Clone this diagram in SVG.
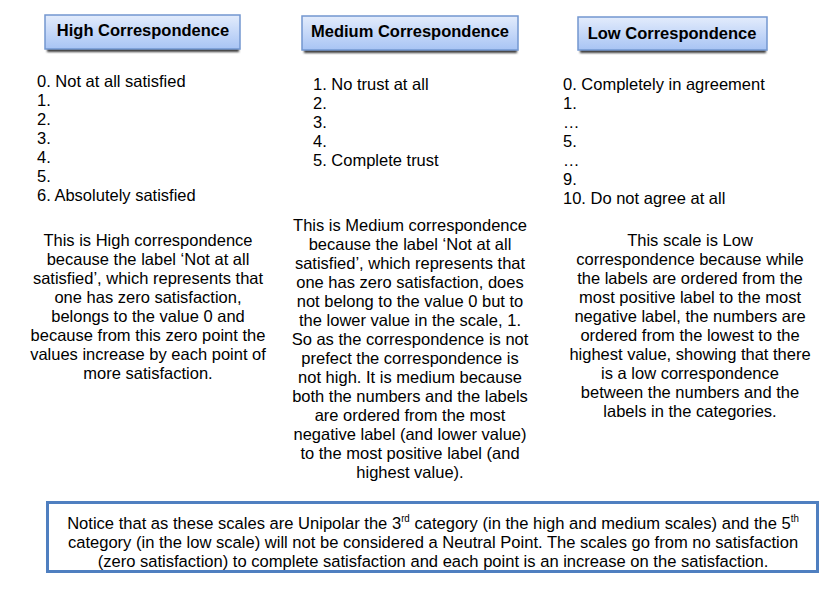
<svg xmlns="http://www.w3.org/2000/svg" width="837" height="589" viewBox="0 0 837 589">
<defs>
<linearGradient id="hg" x1="0" y1="0" x2="0" y2="1">
<stop offset="0" stop-color="#e3ecfc"/>
<stop offset="1" stop-color="#a8c4f4"/>
</linearGradient>
<filter id="sh" x="-5%" y="-50%" width="110%" height="200%">
<feGaussianBlur stdDeviation="1"/>
</filter>
</defs>
<style>
text{font-family:"Liberation Sans",Arial,sans-serif;font-size:16.5px;fill:#000}
.hd{font-weight:bold;text-anchor:middle}
.hbox{fill:url(#hg);stroke:#7397d0;stroke-width:1.5}
.shadow{fill:#3a3a3a;filter:url(#sh)}
.c{text-anchor:middle}
.bt{text-anchor:middle;font-size:17px}
</style>
<rect width="837" height="589" fill="#ffffff"/>
<g id="high-header">
<rect class="shadow" x="47" y="48" width="192" height="4"/>
<rect class="hbox" x="45" y="15" width="195" height="34"/>
<text class="hd" x="143" y="36">High Correspondence</text>
</g>
<g id="medium-header">
<rect class="shadow" x="304" y="49" width="213" height="4"/>
<rect class="hbox" x="302" y="16" width="216" height="34"/>
<text class="hd" x="410" y="37">Medium Correspondence</text>
</g>
<g id="low-header">
<rect class="shadow" x="580" y="49" width="186" height="4"/>
<rect class="hbox" x="578" y="17" width="189" height="33"/>
<text class="hd" x="672" y="39">Low Correspondence</text>
</g>
<g id="high-list">
<text x="37" y="87">0. Not at all satisfied</text>
<text x="37" y="106">1.</text>
<text x="37" y="125">2.</text>
<text x="37" y="144">3.</text>
<text x="37" y="163">4.</text>
<text x="37" y="182">5.</text>
<text x="37" y="201">6. Absolutely satisfied</text>
</g>
<g id="medium-list">
<text x="313" y="90">1. No trust at all</text>
<text x="313" y="109">2.</text>
<text x="313" y="128">3.</text>
<text x="313" y="147">4.</text>
<text x="313" y="166">5. Complete trust</text>
</g>
<g id="low-list">
<text x="563" y="90">0. Completely in agreement</text>
<text x="563" y="109">1.</text>
<text x="563" y="128">…</text>
<text x="563" y="147">5.</text>
<text x="563" y="166">…</text>
<text x="563" y="185">9.</text>
<text x="563" y="204">10. Do not agree at all</text>
</g>
<g id="high-text">
<text class="c" x="148" y="246">This is High correspondence</text>
<text class="c" x="148" y="265">because the label ‘Not at all</text>
<text class="c" x="148" y="284">satisfied’, which represents that</text>
<text class="c" x="148" y="303">one has zero satisfaction,</text>
<text class="c" x="148" y="322">belongs to the value 0 and</text>
<text class="c" x="148" y="341">because from this zero point the</text>
<text class="c" x="148" y="360">values increase  by each point of</text>
<text class="c" x="148" y="379">more satisfaction.</text>
</g>
<g id="medium-text">
<text class="c" x="410" y="231">This is Medium correspondence</text>
<text class="c" x="410" y="250">because the label ‘Not at all</text>
<text class="c" x="410" y="269">satisfied’, which represents that</text>
<text class="c" x="410" y="288">one has zero satisfaction, does</text>
<text class="c" x="410" y="307">not belong to the value 0 but to</text>
<text class="c" x="410" y="326">the lower value in the scale, 1.</text>
<text class="c" x="410" y="345">So as the correspondence is not</text>
<text class="c" x="410" y="364">prefect the correspondence is</text>
<text class="c" x="410" y="383">not high. It is medium because</text>
<text class="c" x="410" y="402">both the numbers and the labels</text>
<text class="c" x="410" y="421">are ordered from the most</text>
<text class="c" x="410" y="440">negative label (and lower value)</text>
<text class="c" x="410" y="459">to the most positive label (and</text>
<text class="c" x="410" y="478">highest value).</text>
</g>
<g id="low-text">
<text class="c" x="690" y="246">This scale is Low</text>
<text class="c" x="690" y="265">correspondence because while</text>
<text class="c" x="690" y="284">the labels are ordered from the</text>
<text class="c" x="690" y="303">most positive label to the most</text>
<text class="c" x="690" y="322">negative label, the numbers are</text>
<text class="c" x="690" y="341">ordered from the lowest to the</text>
<text class="c" x="690" y="360">highest value, showing that there</text>
<text class="c" x="690" y="379">is a low correspondence</text>
<text class="c" x="690" y="398">between the numbers and the</text>
<text class="c" x="690" y="417">labels in the categories.</text>
</g>
<g id="note">
<rect x="47.5" y="502.5" width="770" height="69" fill="#ffffff" stroke="#4f7fc0" stroke-width="3"/>
<g transform="translate(433,0) scale(0.975,1)">
<text class="bt" x="0" y="529">Notice that as these scales are Unipolar the 3<tspan font-size="10" dy="-7">rd</tspan><tspan dy="7"> category (in the high and medium scales) and the 5</tspan><tspan font-size="10" dy="-7">th</tspan></text>
<text class="bt" x="0" y="548">category (in the low scale) will not be considered a Neutral Point. The scales go from no satisfaction</text>
<text class="bt" x="0" y="567">(zero satisfaction) to complete satisfaction and each point is an increase on the satisfaction.</text>
</g>
</g>
</svg>
